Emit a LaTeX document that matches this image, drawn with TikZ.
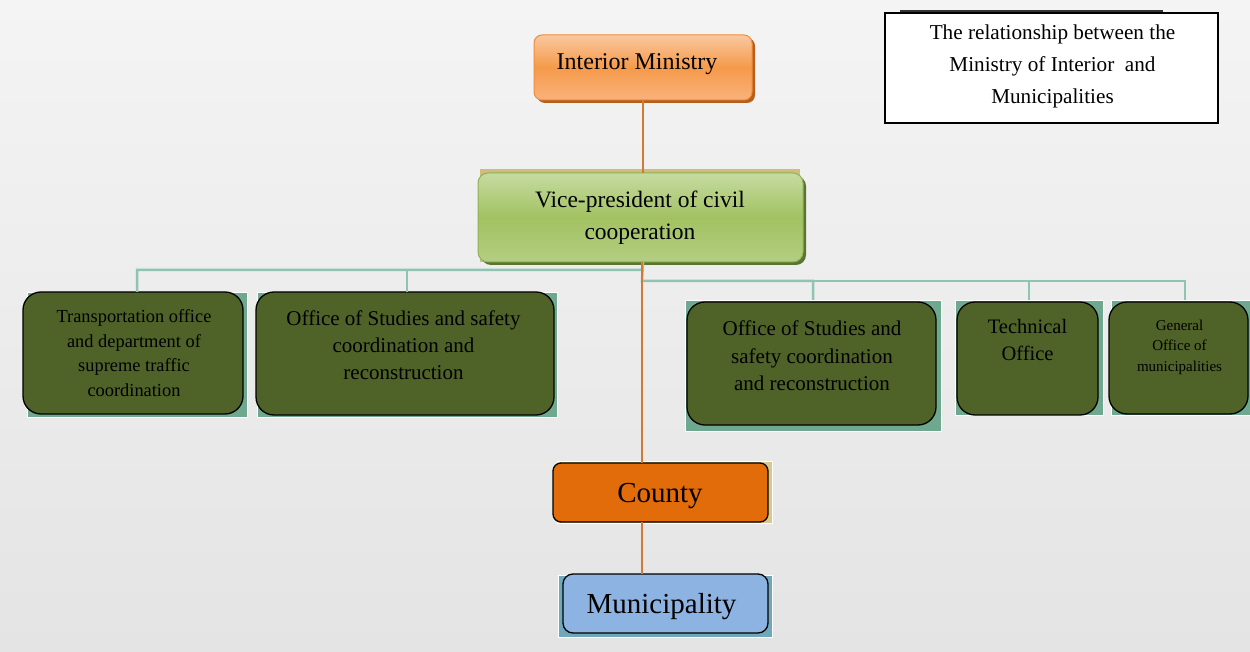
\documentclass[tikz,border=0pt]{standalone}
\usepackage{fontspec}
\setmainfont{Liberation Serif}
\definecolor{cBgTop}{HTML}{F4F4F4}
\definecolor{cBgBot}{HTML}{E4E4E4}
\definecolor{cIntTop}{HTML}{FAC8A0}
\definecolor{cIntMid}{HTML}{F59A4A}
\definecolor{cIntBot}{HTML}{F9B27C}
\definecolor{cIntBorder}{HTML}{F28C3C}
\definecolor{cIntShadow}{HTML}{B45F1E}
\definecolor{cTan}{HTML}{D0BD7E}
\definecolor{cVpTop}{HTML}{C6DBA1}
\definecolor{cVpMid}{HTML}{A2C262}
\definecolor{cVpBot}{HTML}{B3CE82}
\definecolor{cVpBorder}{HTML}{8FB152}
\definecolor{cVpShadow}{HTML}{5A7530}
\definecolor{cOlive}{HTML}{4F6228}
\definecolor{cTeal}{HTML}{6EA88F}
\definecolor{cCounty}{HTML}{E36C0A}
\definecolor{cMuniBg}{HTML}{6FA8BA}
\definecolor{cMuni}{HTML}{8DB3E2}
\definecolor{cOrgLine}{HTML}{D07A35}
\definecolor{cTree}{HTML}{8EC4B0}
\begin{document}
\begin{tikzpicture}[x=1pt,y=-1pt,
  every node/.style={inner sep=0pt,outer sep=0pt},
  txt/.style={align=center,text=black,execute at begin node=\strut,execute at end node=\strut},
  olivebox/.style={draw=black,line width=1.3pt,fill=cOlive,rounded corners=18pt},
  tealback/.style={fill=cTeal,draw=white,line width=0.8pt},
  orgline/.style={draw=cOrgLine,line width=1.5pt},
  treeline/.style={draw=cTree,line width=2.5pt},
]
\useasboundingbox (0,0) rectangle (1250,652);
\shade[top color=cBgTop,bottom color=cBgBot] (0,0) rectangle (1250,652);

% title
\draw[line width=2.5pt,gray!40!black] (900,11) -- (1163,11);
\node (title) [draw=black,line width=1.5pt,fill=white,minimum width=333pt,minimum height=110pt] at (1051.5,68) {};
\node (titletxt) [txt,font=\fontsize{21.2}{32}\selectfont] at (1052.5,68.6) {The relationship between the\\Ministry of Interior\ \ and\\Municipalities};

% Interior Ministry
\node (intsh) [fill=cIntShadow,rounded corners=8pt,minimum width=218pt,minimum height=65pt] at (646,70.5) {};
\node (int) [draw=cIntBorder,line width=1pt,rounded corners=8pt,top color=cIntTop,bottom color=cIntBot,middle color=cIntMid,minimum width=218pt,minimum height=65pt] at (643,67.5) {};
\node (inttxt) [txt,font=\fontsize{24}{29}\selectfont] at (637,64.2) {Interior Ministry};

% Vice-president
\node (vpbg) [fill=cTan,minimum width=320pt,minimum height=93pt] at (640,215.5) {};
\node (vpsh) [fill=cVpShadow,rounded corners=10pt,minimum width=325pt,minimum height=89pt] at (643.5,220.5) {};
\node (vp) [draw=cVpBorder,line width=1pt,rounded corners=10pt,top color=cVpTop,bottom color=cVpBot,middle color=cVpMid,minimum width=325pt,minimum height=89pt] at (640.5,217.5) {};
\node (vptxt) [txt,font=\fontsize{23.5}{32}\selectfont] at (640,219.6) {Vice-president of civil\\cooperation};

% offices
\node (t1bg) [tealback,minimum width=220pt,minimum height=125pt] at (137,354.5) {};
\node (t1) [olivebox,minimum width=220pt,minimum height=122pt] at (133,353) {};
\node (t1txt) [txt,font=\fontsize{18.4}{24.5}\selectfont] at (134,356.8) {Transportation office\\and department of\\supreme traffic\\coordination};

\node (t2bg) [tealback,minimum width=300pt,minimum height=125pt] at (407,354.5) {};
\node (t2) [olivebox,minimum width=298pt,minimum height=123pt] at (405,353.5) {};
\node (t2txt) [txt,font=\fontsize{21}{27}\selectfont] at (403.5,349.6) {Office of Studies and safety\\coordination and\\reconstruction};

\node (t3bg) [tealback,minimum width=256pt,minimum height=131pt] at (813,365.5) {};
\node (t3) [olivebox,minimum width=249pt,minimum height=123pt] at (811.5,363.5) {};
\node (t3txt) [txt,font=\fontsize{21}{27.5}\selectfont] at (812,360) {Office of Studies and\\safety coordination\\and reconstruction};

\node (t4bg) [tealback,minimum width=148pt,minimum height=115pt] at (1029,357.5) {};
\node (t4) [olivebox,minimum width=141pt,minimum height=113pt] at (1027.5,358.5) {};
\node (t4txt) [txt,font=\fontsize{20.5}{27}\selectfont] at (1027.5,344.1) {Technical\\Office};

\node (t5bg) [tealback,minimum width=148pt,minimum height=115pt] at (1185,357.5) {};
\node (t5) [olivebox,minimum width=139pt,minimum height=112pt] at (1178.5,358) {};
\node (t5txt) [txt,font=\fontsize{15}{20.5}\selectfont] at (1179.5,348.4) {General\\Office of\\municipalities};

% County
\node (ctybg) [fill=cTan!85!white,draw=white,line width=0.8pt,minimum width=215pt,minimum height=62pt] at (664.5,492) {};
\node (cty) [draw=black,line width=1.3pt,fill=cCounty,rounded corners=8pt,minimum width=215pt,minimum height=59pt] at (660.5,492.5) {};
\node (ctytxt) [txt,font=\fontsize{29}{35}\selectfont] at (660,495) {County};

% Municipality
\node (munbg) [fill=cMuniBg,draw=white,line width=0.8pt,minimum width=214pt,minimum height=62pt] at (665,606) {};
\node (mun) [draw=black,line width=1.3pt,fill=cMuni,rounded corners=10pt,minimum width=205pt,minimum height=59pt] at (665.5,603.5) {};
\node (muntxt) [txt,font=\fontsize{29}{35}\selectfont] at (661.5,606) {Municipality};

% tree connectors
\coordinate (jl) at (642,270);
\coordinate (jr) at (642,281);
\draw[treeline] (int.south |- vp.south) -- (jl) -| (t1bg.north);
\draw[treeline] (jl) -| (t2bg.north);
\draw[treeline] (int.south |- vp.south) -- (jr) -| (t3bg.north);
\draw[treeline] (jr) -| (t4bg.north);
\draw[treeline] (jr) -| (t5bg.north);

% orange connectors
\draw[orgline] (int.south) -- (int.south |- vp.north);
\draw[orgline] (jl |- vp.south) -- (jl |- cty.north);
\draw[orgline] (jl |- cty.south) -- (jl |- mun.north);
\end{tikzpicture}
\end{document}
